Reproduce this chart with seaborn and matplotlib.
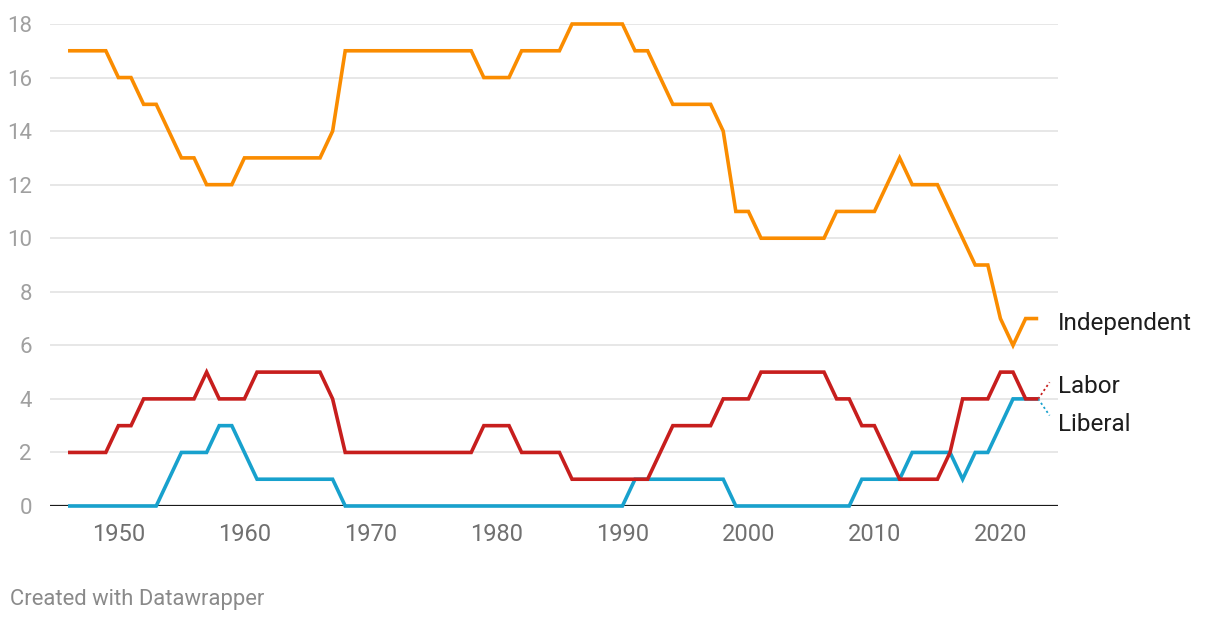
import matplotlib
matplotlib.use("Agg")
import matplotlib.pyplot as plt
import seaborn as sns
import pandas as pd
import numpy as np

years = list(range(1946, 2024))

independent = [17, 17, 17, 17, 16, 16, 15, 15, 14, 13, 13, 12, 12, 12, 13, 13, 13, 13, 13, 13,
               13, 14, 17, 17, 17, 17, 17, 17, 17, 17, 17, 17, 17, 16, 16, 16, 17, 17, 17, 17,
               18, 18, 18, 18, 18, 17, 17, 16, 15, 15, 15, 15, 14, 11, 11, 10, 10, 10, 10, 10,
               10, 11, 11, 11, 11, 12, 13, 12, 12, 12, 11, 10, 9, 9, 7, 6, 7, 7]
labor = [2, 2, 2, 2, 3, 3, 4, 4, 4, 4, 4, 5, 4, 4, 4, 5, 5, 5, 5, 5,
         5, 4, 2, 2, 2, 2, 2, 2, 2, 2, 2, 2, 2, 3, 3, 3, 2, 2, 2, 2,
         1, 1, 1, 1, 1, 1, 1, 2, 3, 3, 3, 3, 4, 4, 4, 5, 5, 5, 5, 5,
         5, 4, 4, 3, 3, 2, 1, 1, 1, 1, 2, 4, 4, 4, 5, 5, 4, 4]
liberal = [0, 0, 0, 0, 0, 0, 0, 0, 1, 2, 2, 2, 3, 3, 2, 1, 1, 1, 1, 1,
           1, 1, 0, 0, 0, 0, 0, 0, 0, 0, 0, 0, 0, 0, 0, 0, 0, 0, 0, 0,
           0, 0, 0, 0, 0, 1, 1, 1, 1, 1, 1, 1, 1, 0, 0, 0, 0, 0, 0, 0,
           0, 0, 0, 1, 1, 1, 1, 2, 2, 2, 2, 1, 2, 2, 3, 4, 4, 4]

series_names = ["Independent", "Labor", "Liberal"]
colors = {"Independent": "#fa8c00", "Labor": "#c71e1d", "Liberal": "#18a1cd"}
y_ticks = [0, 2, 4, 6, 8, 10, 12, 14, 16, 18]
x_ticks = [1950, 1960, 1970, 1980, 1990, 2000, 2010, 2020]

df = pd.DataFrame({
    "year": years * 3,
    "value": independent + labor + liberal,
    "party": ["Independent"] * len(years) + ["Labor"] * len(years) + ["Liberal"] * len(years),
})

sns.set_theme(style="white")
plt.rcParams["font.family"] = ["Roboto", "DejaVu Sans"]

fig = plt.figure(figsize=(12.2, 6.22), dpi=100)
ax = fig.add_axes([50 / 1220, 1 - 506 / 622, (1058 - 50) / 1220, (506 - 24) / 622])

sns.lineplot(data=df, x="year", y="value", hue="party", hue_order=series_names[::-1],
             palette=colors, linewidth=2.6, ax=ax, legend=False, clip_on=False, zorder=3)
for line in ax.lines:
    line.set_solid_joinstyle("miter")
    line.set_solid_capstyle("butt")

ax.set_xlim(1944.57, 2024.57)
ax.set_ylim(0, 18)
ax.set_yticks(y_ticks)
ax.set_xticks(x_ticks)
ax.set_xlabel("")
ax.set_ylabel("")
for s in ax.spines.values():
    s.set_visible(False)
ax.grid(axis="y", color="#e3e3e3", linewidth=1.2, zorder=0)
ax.grid(axis="x", visible=False)
ax.axhline(0, color="#1a1a1a", linewidth=1.6, zorder=2)
ax.tick_params(axis="y", length=0, labelsize=16, labelcolor="#a0a0a0", pad=13)
ax.tick_params(axis="x", length=0, labelsize=17, labelcolor="#707070", pad=12)

# line-end labels
end_x = years[-1]
ax.text(2024.57, 6.80, "Independent", fontsize=17.5, color="#1d1d1d", va="center", ha="left")
ax.text(2024.57, 4.46, "Labor", fontsize=17.5, color="#1d1d1d", va="center", ha="left")
ax.text(2024.57, 3.04, "Liberal", fontsize=17.5, color="#1d1d1d", va="center", ha="left")
ax.plot([end_x, end_x + 0.9], [labor[-1], labor[-1] + 0.62], color=colors["Labor"],
        linestyle=(0, (1.2, 1.5)), linewidth=1.3, clip_on=False)
ax.plot([end_x, end_x + 0.9], [liberal[-1], liberal[-1] - 0.62], color=colors["Liberal"],
        linestyle=(0, (1.2, 1.5)), linewidth=1.3, clip_on=False)

fig.text(10 / 1220, 1 - 600 / 622, "Created with Datawrapper", fontsize=15.8, color="#8a8a8a",
         va="center", ha="left")

fig.savefig("out.png", dpi=100)
